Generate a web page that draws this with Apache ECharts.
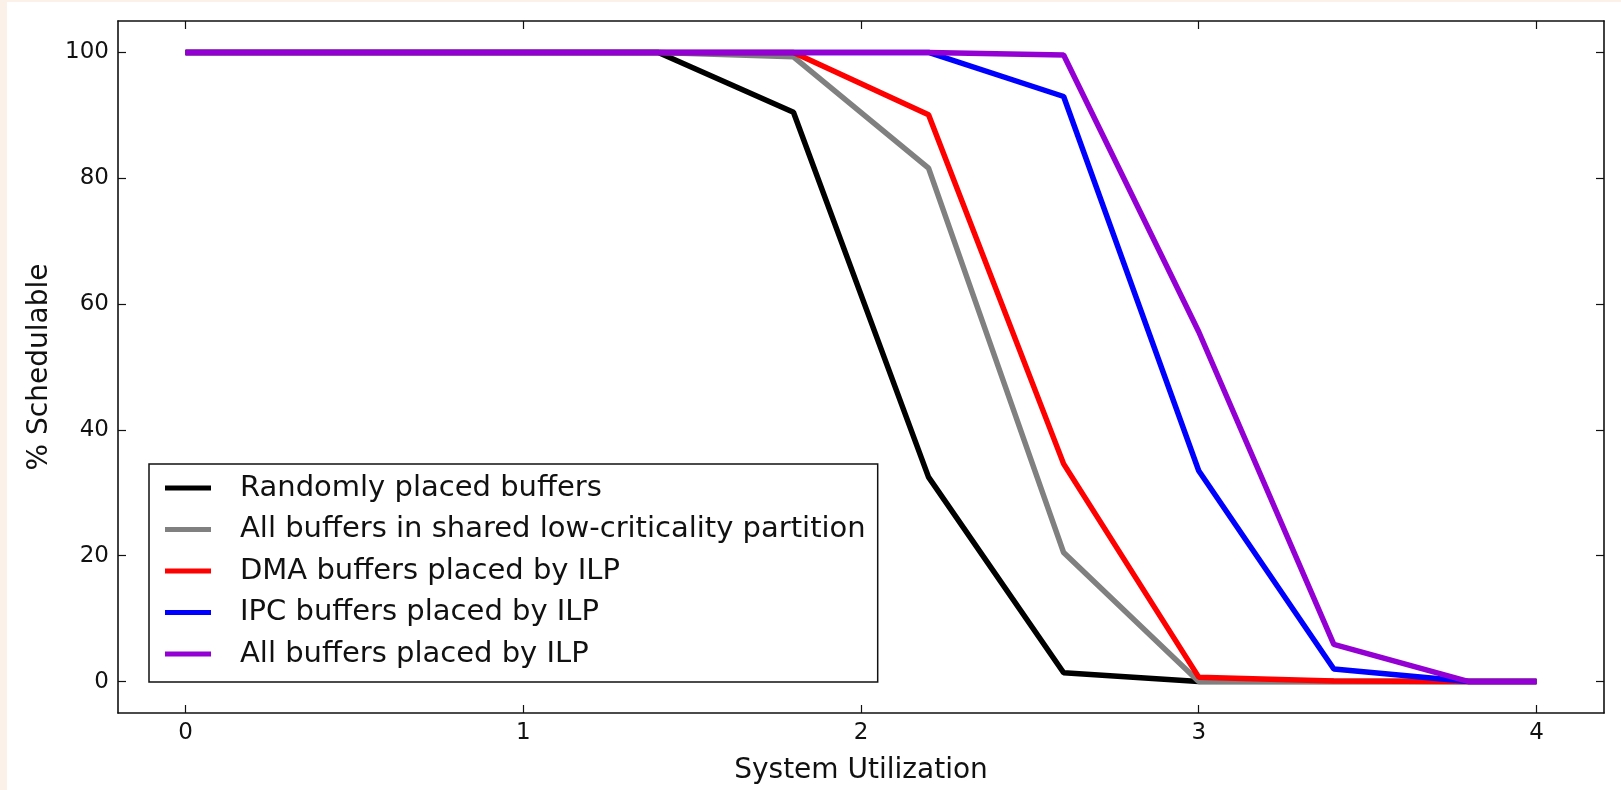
<!DOCTYPE html>
<html>
<head>
<meta charset="utf-8">
<script src="https://cdn.jsdelivr.net/npm/echarts@6/dist/echarts.min.js"></script>
<style>
  html, body { margin: 0; padding: 0; background: #fbf1e8; width: 1621px; height: 790px; overflow: hidden; }
  #chart { position: absolute; left: 7px; top: 2px; width: 1614px; height: 788px; background: #ffffff; }
</style>
</head>
<body>
<div id="chart"></div>
<script>
// System utilization sample points
const utilization = [0, 0.2, 0.6, 1.0, 1.4, 1.8, 2.2, 2.6, 3.0, 3.4, 3.8, 4.0];

// % of task sets schedulable for each buffer placement strategy
const randomPlaced   = [100, 100, 100, 100, 100, 90.5, 32.5, 1.4, 0, 0, 0, 0];
const sharedLowCrit  = [100, 100, 100, 100, 100, 99.3, 81.6, 20.5, 0, 0, 0, 0];
const dmaByIlp       = [100, 100, 100, 100, 100, 100, 90.1, 34.6, 0.7, 0.1, 0, 0];
const ipcByIlp       = [100, 100, 100, 100, 100, 100, 100, 93.0, 33.5, 2.0, 0, 0];
const allByIlp       = [100, 100, 100, 100, 100, 100, 100, 99.6, 55.6, 5.9, 0, 0];

const seriesNames = [
  'Randomly placed buffers',
  'All buffers in shared low-criticality partition',
  'DMA buffers placed by ILP',
  'IPC buffers placed by ILP',
  'All buffers placed by ILP'
];
const seriesValues = [randomPlaced, sharedLowCrit, dmaByIlp, ipcByIlp, allByIlp];
const seriesColors = ['#000000', '#808080', '#ff0000', '#0000ff', '#9400d3'];

const xTicks = [0, 1, 2, 3, 4];
const yTicks = [0, 20, 40, 60, 80, 100];

const FONT = '"DejaVu Sans", sans-serif';
const axisLineStyle = { color: '#111', width: 1.6 };

function xAxisCfg(pos, showLabels) {
  return {
    type: 'value', position: pos, min: -0.2, max: 4.2,
    axisLine: { show: true, onZero: false, lineStyle: axisLineStyle },
    axisTick: { show: true, inside: true, length: 8, customValues: xTicks, lineStyle: { color: '#111', width: 1.2 } },
    axisLabel: { show: showLabels, customValues: xTicks, margin: 9, fontSize: 23, fontFamily: FONT, color: '#111' },
    splitLine: { show: false }
  };
}
function yAxisCfg(pos, showLabels) {
  return {
    type: 'value', position: pos, min: -5, max: 105,
    axisLine: { show: true, onZero: false, lineStyle: axisLineStyle },
    axisTick: { show: true, inside: true, length: 8, customValues: yTicks, lineStyle: { color: '#111', width: 1.2 } },
    axisLabel: { show: showLabels, customValues: yTicks, margin: 9, fontSize: 23, fontFamily: FONT, color: '#111' },
    splitLine: { show: false }
  };
}

const xMain = xAxisCfg('bottom', true);
xMain.name = 'System Utilization';
xMain.nameLocation = 'middle';
xMain.nameGap = 44;
xMain.nameTextStyle = { fontSize: 28, fontFamily: FONT, color: '#111' };

const yMain = yAxisCfg('left', true);
yMain.name = '% Schedulable';
yMain.nameLocation = 'middle';
yMain.nameGap = 58;
yMain.nameTextStyle = { fontSize: 28, fontFamily: FONT, color: '#111' };

const chart = echarts.init(document.getElementById('chart'));
chart.setOption({
  animation: false,
  backgroundColor: '#ffffff',
  grid: { left: 111, right: 17, top: 19, bottom: 76 },
  xAxis: [xMain, xAxisCfg('top', false)],
  yAxis: [yMain, yAxisCfg('right', false)],
  legend: {
    orient: 'vertical',
    left: 142, top: 462,
    data: seriesNames,
    icon: 'rect',
    itemWidth: 46, itemHeight: 5,
    itemGap: 12.5,
    padding: [9.5, 12, 13.5, 16],
    backgroundColor: '#ffffff',
    borderColor: '#111',
    borderWidth: 1.5,
    borderRadius: 0,
    textStyle: { fontSize: 29, lineHeight: 29, fontFamily: FONT, color: '#111', padding: [0, 0, 0, 24] }
  },
  series: seriesNames.map((name, i) => ({
    name: name,
    type: 'line',
    xAxisIndex: 0, yAxisIndex: 0,
    data: utilization.map((u, j) => [u, seriesValues[i][j]]),
    showSymbol: false,
    symbol: 'none',
    lineStyle: { color: seriesColors[i], width: 5.5 },
    itemStyle: { color: seriesColors[i] },
    emphasis: { disabled: true }
  }))
});
</script>
</body>
</html>
